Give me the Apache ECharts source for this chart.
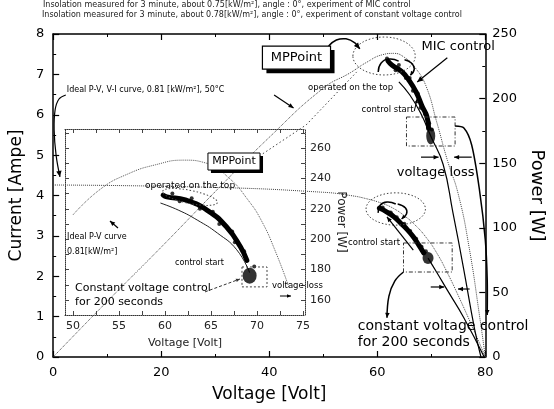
<!DOCTYPE html>
<html><head><meta charset="utf-8">
<script src="https://cdn.jsdelivr.net/npm/echarts@6/dist/echarts.min.js"></script>
<style>html,body{margin:0;padding:0;background:#fff}#c{width:554px;height:409px}</style>
</head><body><div id="c"></div>
<script>
// ---------------- data ----------------
const mainXTicks = [0, 20, 40, 60, 80];
const currentTicks = [0, 1, 2, 3, 4, 5, 6, 7, 8];
const powerTicks = [0, 50, 100, 150, 200, 250];
const insetXTicks = [50, 55, 60, 65, 70, 75];
const insetXMinorTicks = [50, 52.5, 55, 57.5, 60, 62.5, 65, 67.5, 70, 72.5, 75];
const insetPowerTicks = [160, 180, 200, 220, 240, 260];
const insetPowerMinorTicks = [160, 170, 180, 190, 200, 210, 220, 230, 240, 250, 260, 270];

// ideal V-I curve (main chart, current axis)
const idealVIVolt = [0, 30, 50, 55, 58, 61, 63, 65, 67, 69, 71, 73, 75, 77, 79, 80];
const idealVICurr = [4.26, 4.2, 4.08, 4.0, 3.92, 3.8, 3.68, 3.5, 3.27, 2.97, 2.58, 2.08, 1.52, 0.93, 0.32, 0];
// ideal P-V curve (main chart, power axis)
const idealPVVolt = [0, 10, 20, 30, 40, 50, 55, 58, 61, 63, 65, 67, 69, 71, 73, 75, 77, 79, 80];
const idealPVPower = [0, 43, 85, 128, 170, 208, 220, 228, 234, 235, 232, 224, 210, 182, 152, 126, 85, 30, 0];
// measured P-V line after MIC control (solid)
const micLineVolt = [64, 66, 68, 70, 72.2, 74, 76, 78, 79.2];
const micLinePower = [213, 203, 189, 170, 149, 112, 68, 22, 0];
// MIC control operating band (power)
const micBandVolt = [62.0, 62.7, 64.5, 65.9, 67.2, 68.3, 69.2, 69.5];
const micBandPower = [229, 226, 221, 214, 205, 194, 186, 177];
const micDotsVolt = [61.8, 63.4, 64.0, 65.3, 66.0, 66.6, 67.5, 68.0, 68.8, 69.6, 70.1];
const micDotsPower = [231, 222, 226, 216, 216, 206, 204, 193, 188, 181, 176];
const micBlob = [69.9, 171];
// constant voltage operating band (current)
const cvBandVolt = [60.4, 61.8, 63.1, 64.3, 65.6, 66.7, 67.7, 68.6];
const cvBandCurr = [3.69, 3.59, 3.47, 3.32, 3.15, 2.97, 2.77, 2.58];
const cvDotsVolt = [61.0, 62.5, 63.6, 65.0, 66.1, 67.2, 68.2, 69.0];
const cvDotsCurr = [3.70, 3.58, 3.46, 3.30, 3.12, 2.93, 2.73, 2.62];
const cvBlob = [69.4, 2.45];
// measured V-I line (solid)
const cvLineVolt = [69.4, 71, 73, 76, 79.8];
const cvLineCurr = [2.45, 2.1, 1.65, 0.98, 0];

// inset: ideal P-V (dotted), measured arc (solid), operating band
const insetIdealVolt = [50, 53, 56, 59, 62, 64.5, 67, 69, 70.5, 72, 73.5];
const insetIdealPower = [216, 233, 243, 249, 252, 250, 240, 226, 212, 192, 168];
const insetArcVolt = [59.5, 61.5, 63.5, 65.7, 67.8, 69.2];
const insetArcPower = [223.8, 219, 212.6, 204, 193, 178];
const insetBandVolt = [59.8, 60.2, 62.2, 64.6, 66.7, 68.2, 68.9];
const insetBandPower = [229, 227.8, 225.8, 219, 208, 195, 186];
const insetDotsVolt = [60.8, 61.6, 62.9, 63.8, 65.2, 65.9, 67.3, 67.6, 68.6, 69.7];
const insetDotsPower = [230, 225, 227, 220, 218, 210, 205, 198, 192, 182];
const insetBlob = [69.2, 176];

const zip = (a, b) => a.map((v, i) => [v, b[i]]);

// ---------------- chart ----------------
const FONT = 'DejaVu Sans';
const chart = echarts.init(document.getElementById('c'), null, {renderer: 'canvas'});

const blackAxis = {color: '#000', width: 1.5};
function mainX(pos, show) {
  return {gridIndex: 0, type: 'value', position: pos, min: 0, max: 80, interval: 20,
    axisLine: {onZero: false, lineStyle: blackAxis},
    axisTick: {inside: true, length: 6, lineStyle: {color: '#000', width: 1.2}},
    minorTick: {show: true, splitNumber: 2, length: 3, lineStyle: {color: '#000'}},
    splitLine: {show: false},
    axisLabel: {show: show, color: '#000', fontSize: 13, margin: 9, fontFamily: FONT,
      customValues: mainXTicks}};
}
const dotted = {color: '#333', type: 'dotted', width: 1};
function insetX(pos, show) {
  return {gridIndex: 1, type: 'value', position: pos, min: 49.13, max: 75.22,
    axisLine: {onZero: false, lineStyle: dotted},
    axisTick: {inside: true, length: 4, customValues: insetXMinorTicks, lineStyle: {color: '#444'}},
    splitLine: {show: false},
    axisLabel: {show: show, customValues: insetXTicks, color: '#222', fontSize: 11, margin: 6, fontFamily: FONT}};
}
function insetY(pos, show) {
  return {gridIndex: 1, type: 'value', position: pos, min: 150.1, max: 272.5,
    axisLine: {onZero: false, lineStyle: dotted},
    axisTick: {inside: true, length: 4, customValues: insetPowerMinorTicks, lineStyle: {color: '#444'}},
    splitLine: {show: false},
    axisLabel: {show: show, customValues: insetPowerTicks, color: '#222', fontSize: 11, margin: 5, fontFamily: FONT}};
}

const xA = mainX('bottom', true);
xA.name = 'Voltage [Volt]'; xA.nameLocation = 'middle'; xA.nameGap = 29;
xA.nameTextStyle = {fontSize: 17, color: '#000', fontFamily: FONT};
const xIn = insetX('bottom', true);
xIn.name = 'Voltage [Volt]'; xIn.nameLocation = 'middle'; xIn.nameGap = 23;
xIn.nameTextStyle = {fontSize: 11, color: '#222', fontFamily: FONT};
const yIn = insetY('right', true);
yIn.name = 'Power [W]'; yIn.nameLocation = 'middle'; yIn.nameRotate = -90; yIn.nameGap = 30;
yIn.nameTextStyle = {fontSize: 12, color: '#222', fontFamily: FONT};

const option = {
  animation: false,
  backgroundColor: '#fff',
  textStyle: {fontFamily: FONT},
  grid: [
    {left: 50, top: 34, width: 444, height: 323},
    {left: 65, top: 129, width: 240, height: 186}
  ],
  xAxis: [xA, mainX('top', false), xIn, insetX('top', false)],
  yAxis: [
    {gridIndex: 0, type: 'value', position: 'left', min: 0, max: 8, interval: 1,
      axisLine: {onZero: false, lineStyle: blackAxis},
      axisTick: {inside: true, length: 6, lineStyle: {color: '#000', width: 1.2}},
      minorTick: {show: true, splitNumber: 2, length: 3, lineStyle: {color: '#000'}},
      splitLine: {show: false},
      axisLabel: {color: '#000', fontSize: 13, margin: 9, fontFamily: FONT, customValues: currentTicks},
      name: 'Current [Ampe]', nameLocation: 'middle', nameRotate: 90, nameGap: 26,
      nameTextStyle: {fontSize: 17, color: '#000', fontFamily: FONT}},
    {gridIndex: 0, type: 'value', position: 'right', min: 0, max: 250, interval: 50,
      axisLine: {onZero: false, lineStyle: blackAxis},
      axisTick: {inside: true, length: 6, lineStyle: {color: '#000', width: 1.2}},
      minorTick: {show: true, splitNumber: 2, length: 3, lineStyle: {color: '#000'}},
      splitLine: {show: false},
      axisLabel: {color: '#000', fontSize: 13, margin: 7, fontFamily: FONT, customValues: powerTicks},
      name: 'Power [W]', nameLocation: 'middle', nameRotate: -90, nameGap: 29,
      nameTextStyle: {fontSize: 18, color: '#000', fontFamily: FONT}},
    yIn, insetY('left', false)
  ],
  series: [
    {type: 'line', xAxisIndex: 0, yAxisIndex: 0, data: zip(idealVIVolt, idealVICurr), smooth: true,
      symbol: 'none', lineStyle: {color: '#444', width: 1, type: 'dotted'}, z: 2},
    {type: 'line', xAxisIndex: 0, yAxisIndex: 1, data: zip(idealPVVolt, idealPVPower), smooth: true,
      symbol: 'none', lineStyle: {color: '#444', width: 1, type: 'dotted'}, z: 2},
    {type: 'line', xAxisIndex: 0, yAxisIndex: 1, data: zip(micLineVolt, micLinePower), smooth: true,
      symbol: 'none', lineStyle: {color: '#000', width: 1.2}, z: 3},
    {type: 'line', xAxisIndex: 0, yAxisIndex: 0, data: zip(cvLineVolt, cvLineCurr), smooth: true,
      symbol: 'none', lineStyle: {color: '#000', width: 1.2}, z: 3},
    {type: 'line', xAxisIndex: 0, yAxisIndex: 1, data: zip(micBandVolt, micBandPower), smooth: true,
      symbol: 'none', lineStyle: {color: '#000', width: 5, cap: 'round'}, z: 4},
    {type: 'scatter', xAxisIndex: 0, yAxisIndex: 1, data: zip(micDotsVolt, micDotsPower),
      symbolSize: 4, itemStyle: {color: '#000'}, z: 4},
    {type: 'scatter', xAxisIndex: 0, yAxisIndex: 1, data: [micBlob],
      symbolSize: [9, 17], itemStyle: {color: '#000'}, z: 4},
    {type: 'line', xAxisIndex: 0, yAxisIndex: 0, data: zip(cvBandVolt, cvBandCurr), smooth: true,
      symbol: 'none', lineStyle: {color: '#000', width: 5, cap: 'round'}, z: 4},
    {type: 'scatter', xAxisIndex: 0, yAxisIndex: 0, data: zip(cvDotsVolt, cvDotsCurr),
      symbolSize: 4, itemStyle: {color: '#000'}, z: 4},
    {type: 'scatter', xAxisIndex: 0, yAxisIndex: 0, data: [cvBlob],
      symbolSize: [11, 12], itemStyle: {color: '#000'}, z: 4},
    // inset
    {type: 'line', xAxisIndex: 2, yAxisIndex: 2, data: zip(insetIdealVolt, insetIdealPower), smooth: true,
      symbol: 'none', lineStyle: {color: '#555', width: 1, type: 'dotted'}, z: 2},
    {type: 'line', xAxisIndex: 2, yAxisIndex: 2, data: zip(insetArcVolt, insetArcPower), smooth: true,
      symbol: 'none', lineStyle: {color: '#222', width: 1}, z: 3},
    {type: 'line', xAxisIndex: 2, yAxisIndex: 2, data: zip(insetBandVolt, insetBandPower), smooth: true,
      symbol: 'none', lineStyle: {color: '#000', width: 5, cap: 'round'}, z: 4},
    {type: 'scatter', xAxisIndex: 2, yAxisIndex: 2, data: zip(insetDotsVolt, insetDotsPower),
      symbolSize: 4, itemStyle: {color: '#000'}, z: 4},
    {type: 'scatter', xAxisIndex: 2, yAxisIndex: 2, data: [insetBlob],
      symbolSize: [14, 16], itemStyle: {color: '#000'}, z: 4}
  ]
};
chart.setOption(option);

// ---------------- annotations (placed in data units through the axes) ----------------
const M = (v, a) => chart.convertToPixel({xAxisIndex: 0, yAxisIndex: 0}, [v, a]);
const N = (v, p) => chart.convertToPixel({xAxisIndex: 2, yAxisIndex: 2}, [v, p]);
const G = [];
function txt(p, s, size, opts) {
  opts = opts || {};
  G.push({type: 'text', x: p[0], y: p[1], z: 100, silent: true,
    style: Object.assign({text: s, fontSize: size, fontFamily: FONT, fill: opts.fill || '#000',
      align: opts.align || 'left', verticalAlign: 'middle',
      textAlign: opts.align || 'left', textVerticalAlign: 'middle',
      fontWeight: opts.weight || 'normal'})});
}
function poly(list, conv, opts) {
  opts = opts || {};
  const P = list.map(q => conv(q[0], q[1]));
  G.push({type: 'polyline', z: 99, silent: true, shape: {points: P, smooth: opts.smooth || 0},
    style: {stroke: opts.color || '#000', lineWidth: opts.width || 1, fill: null,
      lineDash: opts.dash || null}});
  if (opts.arrow) {
    const a = P[P.length - 2], b = P[P.length - 1];
    const dx = b[0] - a[0], dy = b[1] - a[1], L = Math.hypot(dx, dy) || 1;
    const ux = dx / L, uy = dy / L, s = opts.arrow, w = s * 0.45;
    const bx = b[0] - ux * s, by = b[1] - uy * s;
    G.push({type: 'polygon', z: 99, silent: true,
      shape: {points: [b, [bx - uy * w, by + ux * w], [bx + uy * w, by - ux * w]]},
      style: {fill: opts.color || '#000'}});
  }
}
function box(c0, c1, conv, opts) {
  const a = conv(c0[0], c0[1]), b = conv(c1[0], c1[1]);
  const x = Math.min(a[0], b[0]), y = Math.min(a[1], b[1]);
  const w = Math.abs(a[0] - b[0]), h = Math.abs(a[1] - b[1]);
  if (opts.shadow) G.push({type: 'rect', z: 98, silent: true,
    shape: {x: x + opts.shadow, y: y + opts.shadow, width: w, height: h}, style: {fill: '#000'}});
  G.push({type: 'rect', z: 98, silent: true, shape: {x, y, width: w, height: h},
    style: {fill: opts.fill || null, stroke: opts.color || '#333', lineWidth: opts.width || 1,
      lineDash: opts.dash || null}});
  if (opts.text) txt([x + w / 2, y + h / 2], opts.text, opts.size, {align: 'center'});
}
function ell(c, rx, ry, conv, rot, opts) {
  const p = conv(c[0], c[1]), q = conv(c[0] + rx, c[1] + ry);
  G.push({type: 'ellipse', z: 98, silent: true, x: p[0], y: p[1], rotation: rot || 0,
    shape: {cx: 0, cy: 0, rx: Math.abs(q[0] - p[0]), ry: Math.abs(q[1] - p[1])},
    style: {fill: null, stroke: '#444', lineWidth: 1, lineDash: (opts && opts.dash) || [1.5, 2]}});
}

// header (outside plot)
G.push({type: 'text', left: 43, top: 1, z: 100, style: {text: 'Insolation measured for 3 minute, about 0.75[kW/m²], angle : 0°, experiment of MIC control', fontSize: 8, fontFamily: FONT, fill: '#222'}});
G.push({type: 'text', left: 42, top: 11, z: 100, style: {text: 'Insolation measured for 3 minute, about 0.78[kW/m²], angle : 0°, experiment of constant voltage control', fontSize: 8, fontFamily: FONT, fill: '#222'}});

// main chart annotations
txt(M(2.52, 6.61), 'Ideal P-V, V-I curve, 0.81 [kW/m²], 50°C', 8);
poly([[2.34, 6.49], [1.08, 6.39], [0.36, 6.12], [0.18, 5.62], [0.54, 5.0], [1.26, 4.46]], M, {width: 1.2, smooth: 0.4, arrow: 6});
poly([[40.9, 6.49], [44.5, 6.17]], M, {width: 1.2, arrow: 5});
box([38.74, 7.70], [51.35, 7.13], M, {shadow: 4, fill: '#fff', color: '#000', width: 1.2, text: 'MPPoint', size: 13});
poly([[50.99, 7.70], [52.43, 7.85], [54.23, 7.88], [55.86, 7.78], [56.76, 7.63]], M, {width: 1.5, smooth: 0.4, arrow: 6});
ell([61.26, 7.455], 5.77, 0.47, M, 0);
ell([63.42, 3.666], 5.5, 0.40, M, 0);
txt(M(68.2, 7.68), 'MIC control', 13);
poly([[72.97, 7.41], [67.39, 6.81]], M, {width: 1.2, arrow: 6});
txt(M(47.2, 6.66), 'operated on the top', 8.5);
txt(M(57.1, 6.12), 'control start', 8.5);
poly([[66.85, 6.09], [67.39, 6.39]], M, {width: 1, arrow: 4});
box([65.41, 5.944], [74.41, 5.226], M, {color: '#333', dash: [4, 2, 1, 2]});
box([64.86, 2.824], [73.87, 2.105], M, {color: '#333', dash: [4, 2, 1, 2]});
txt(M(63.6, 4.56), 'voltage loss', 13);
poly([[68.1, 4.95], [71.35, 4.95]], M, {width: 1.2, arrow: 5});
poly([[77.48, 4.95], [74.23, 4.95]], M, {width: 1.2, arrow: 5});
poly([[69.9, 1.734], [72.4, 1.734]], M, {width: 1.2, arrow: 5});
poly([[77.1, 1.684], [74.95, 1.684]], M, {width: 1.2, arrow: 5});
poly([[74.41, 5.72], [76.04, 5.67], [77.48, 5.25], [78.92, 4.14], [80.0, 2.90], [80.36, 1.91], [80.36, 1.04]], M, {width: 1.5, smooth: 0.3, arrow: 5});
poly([[64.86, 2.105], [63.24, 1.88], [62.16, 1.51], [61.8, 0.97]], M, {width: 1.5, smooth: 0.4, arrow: 5});
txt(M(54.6, 2.82), 'control start', 8.5);
poly([[66.67, 2.65], [61.8, 3.47]], M, {width: 1.2, arrow: 5});
poly([[60.18, 7.06], [60.72, 7.28], [62.16, 7.38], [63.96, 7.33]], M, {width: 1.5, smooth: 0.5});
poly([[65.05, 7.36], [66.31, 7.28], [66.85, 7.13], [66.13, 6.98]], M, {width: 1.5, smooth: 0.5, arrow: 4});
poly([[60.18, 3.57], [60.54, 3.76], [61.8, 3.84], [63.42, 3.79]], M, {width: 1.5, smooth: 0.5});
poly([[63.78, 3.79], [65.23, 3.69], [65.41, 3.54], [64.5, 3.42]], M, {width: 1.5, smooth: 0.5, arrow: 4});
txt(M(56.4, 0.77), 'constant voltage control', 14);
txt(M(56.4, 0.37), 'for 200 seconds', 14);
poly([[38.2, 4.98], [46.85, 5.75], [56.2, 7.06]], M, {color: '#444', dash: [1.5, 2.5]});

// inset annotations
box([64.67, 256.7], [70.33, 245.5], N, {shadow: 3, fill: '#fff', color: '#000', width: 1, text: 'MPPoint', size: 11});
txt(N(57.83, 235), 'operated on the top', 9);
txt(N(49.35, 201.4), 'Ideal P-V curve', 8);
txt(N(49.35, 191.6), '0.81[kW/m²]', 8);
poly([[54.89, 207.4], [54.02, 212]], N, {width: 1.2, arrow: 5});
txt(N(61.09, 184.3), 'control start', 8);
txt(N(50.22, 167.9), 'Constant voltage control', 11);
txt(N(50.22, 158.7), 'for 200 seconds', 11);
poly([[64.35, 165.3], [68.15, 173.8]], N, {color: '#333', dash: [3, 2], arrow: 4});
box([68.37, 181.7], [71.09, 168.6], N, {color: '#444', dash: [2, 2]});
ell([62.72, 227.8], 3.04, 4.28, N, -0.2);
txt(N(71.63, 169.2), 'voltage loss', 8.5);
poly([[72.5, 162.6], [73.7, 162.6]], N, {width: 1, arrow: 4});

chart.setOption({graphic: {elements: G}});
</script>
</body></html>
